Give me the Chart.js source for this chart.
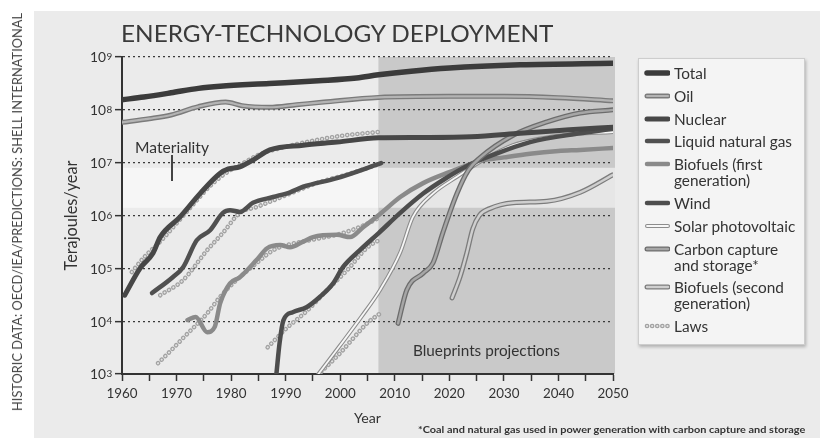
<!DOCTYPE html>
<html>
<head>
<meta charset="utf-8">
<script src="https://cdn.jsdelivr.net/npm/chart.js@4.4.1/dist/chart.umd.min.js"></script>
<style>
  html, body { margin: 0; padding: 0; background: #fff; }
  body { width: 822px; height: 439px; position: relative; overflow: hidden;
         font-family: Lato, "Open Sans", "DejaVu Sans", sans-serif; color: #333; }
  #panel { position: absolute; left: 34px; top: 11px; width: 786px; height: 427px; background: #ebebeb; }
  #chart { position: absolute; left: 0; top: 0; }
  .txt { position: absolute; white-space: nowrap; }
  #title { left: 121px; top: 19px; font-size: 24px; line-height: 28px; color: #3a3a3a; transform-origin: left center; }
  #source { left: 17px; top: 212px; font-size: 13px; line-height: 14px; color: #444;
            transform-origin: center center; }
  #note { left: 418px; top: 424px; font-size: 9px; line-height: 12px; color: #333; font-weight: bold; transform-origin: left center; }
  #materiality { left: 135px; top: 138px; font-size: 15px; line-height: 18px; }
  #matline { position: absolute; left: 171px; top: 155px; width: 1.5px; height: 26px; background: #444; }
  #blueprints { left: 413px; top: 341px; font-size: 15px; line-height: 18px; }
  #legend { position: absolute; left: 638px; top: 58px; width: 167px; height: 287px; box-sizing: border-box;
            background: #f4f4f4; border: 1px solid #cdcdcd; box-shadow: 1px 2px 3px rgba(0,0,0,0.25);
            padding: 6px 0 0 5px; }
  .item { display: flex; align-items: flex-start; margin-bottom: 6.8px; }
  .item canvas { flex: none; margin-top: 1px; }
  .item span { margin-left: 4px; line-height: 16px; white-space: pre-line; color: #333; }
</style>
</head>
<body>
<div id="panel"></div>
<canvas id="chart" width="822" height="439"></canvas>
<div class="txt" id="title">ENERGY-TECHNOLOGY DEPLOYMENT</div>
<div class="txt" id="source">HISTORIC DATA: OECD/IEA/PREDICTIONS: SHELL INTERNATIONAL</div>
<div class="txt" id="note">*Coal and natural gas used in power generation with carbon capture and storage</div>
<div class="txt" id="materiality">Materiality</div>
<div id="matline"></div>
<div class="txt" id="blueprints">Blueprints projections</div>
<div id="legend"></div>
<script>
// values in terajoules per year
const totalYears = [1960, 1964, 1969, 1974, 1978, 1987, 1996, 2003, 2007, 2013, 2020, 2033, 2050];
const totalValues = [1.55e8, 1.75e8, 2.1e8, 2.55e8, 2.8e8, 3.15e8, 3.55e8, 4.0e8, 4.6e8, 5.4e8, 6.2e8, 7.1e8, 7.6e8];

const oilYears = [1960, 1965, 1969, 1974, 1979, 1982, 1987, 1992, 1997, 2007, 2020, 2030, 2040, 2050];
const oilValues = [5.8e7, 6.8e7, 8.0e7, 1.15e8, 1.4e8, 1.2e8, 1.12e8, 1.25e8, 1.4e8, 1.72e8, 1.8e8, 1.8e8, 1.7e8, 1.48e8];

const nuclearYears = [1960.5, 1963.3, 1965.7, 1967, 1970.6, 1974.3, 1978, 1979.5, 1981.6, 1984, 1987.1, 1993.2, 1999.4, 2007, 2015, 2024, 2033, 2042, 2050];
const nuclearValues = [3.1e4, 1.0e5, 1.95e5, 3.9e5, 9.3e5, 2.6e6, 6.3e6, 7.6e6, 8.3e6, 1.12e7, 1.74e7, 2.14e7, 2.45e7, 2.95e7, 3.0e7, 3.1e7, 3.6e7, 4.2e7, 4.7e7];

const lngYears = [1965.5, 1969.3, 1971.2, 1973.7, 1976.1, 1978.5, 1979.8, 1981.6, 1984, 1987.7, 1990.8, 1993.2, 1999.4, 2007.5];
const lngValues = [3.4e4, 6.8e4, 1.05e5, 3.4e5, 5.2e5, 1.12e6, 1.26e6, 1.17e6, 1.74e6, 2.24e6, 2.75e6, 3.5e6, 5.1e6, 9.8e6];

const bio1Years = [1972, 1973.5, 1975.6, 1977, 1978, 1979.8, 1981.6, 1984.7, 1986.6, 1989, 1990.8, 1993.2, 1995, 1999.4, 2001.8, 2004.2, 2007.3, 2011, 2015.2, 2020, 2025.6, 2030, 2034.8, 2040, 2044, 2050];
const bio1Values = [1.05e4, 1.2e4, 6.2e3, 7.8e3, 2.2e4, 5.2e4, 6.8e4, 1.45e5, 2.4e5, 2.75e5, 2.5e5, 3.2e5, 3.9e5, 4.3e5, 3.9e5, 6.0e5, 1.07e6, 2.24e6, 4.1e6, 6.6e6, 1.07e7, 1.26e7, 1.48e7, 1.66e7, 1.74e7, 1.9e7];

const windYears = [1988.3, 1988.9, 1989.6, 1991.3, 1993.9, 1996.3, 1998.7, 2000.5, 2003.6, 2007.1, 2011, 2015.2, 2019, 2023.5, 2028, 2034.8, 2044, 2050];
const windValues = [1e3, 4e3, 1.05e4, 1.48e4, 1.86e4, 2.9e4, 5.2e4, 1.05e5, 2.2e5, 4.7e5, 1.12e6, 2.6e6, 4.8e6, 8.9e6, 1.4e7, 2.45e7, 3.6e7, 4.4e7];

const solarYears = [1996, 2000, 2004, 2007.3, 2011, 2013.3, 2017, 2021.4, 2026.2, 2031.7, 2040.8, 2050];
const solarValues = [1e3, 3.5e3, 1.26e4, 3.9e4, 2.0e5, 9.3e5, 2.6e6, 5.4e6, 1.12e7, 2.14e7, 3.3e7, 3.8e7];

const ccsYears = [2010.6, 2012.2, 2015.2, 2017, 2018.8, 2021.4, 2023.5, 2025.6, 2031.7, 2037.9, 2044, 2050];
const ccsValues = [9.1e3, 3.9e4, 8.1e4, 1.26e5, 4.7e5, 2.6e6, 7.2e6, 1.23e7, 3.3e7, 5.9e7, 8.7e7, 1.0e8];

const bio2Years = [2020.5, 2022, 2023.2, 2024.3, 2025.5, 2027.4, 2031.7, 2037.9, 2044, 2050];
const bio2Values = [2.75e4, 7.1e4, 1.95e5, 5.6e5, 1.0e6, 1.35e6, 1.74e6, 1.86e6, 2.75e6, 5.9e6];

// "laws" fits drawn as dotted lines
const lawsNuclearYears = [1961.8, 1964, 1967, 1970, 1973, 1976, 1979, 1982, 1985, 1990, 1995, 2000, 2007];
const lawsNuclearValues = [8.5e4, 1.6e5, 3.2e5, 7.1e5, 1.6e6, 3.5e6, 6.3e6, 9.5e6, 1.4e7, 2.0e7, 2.6e7, 3.2e7, 3.8e7];
const lawsLngYears = [1967, 1971.2, 1975.6, 1978.5, 1981.6, 1984.7, 1990.8, 1996, 2002, 2007];
const lawsLngValues = [3.1e4, 6.0e4, 2.2e5, 4.7e5, 1.12e6, 1.45e6, 2.6e6, 4.2e6, 6.3e6, 9.3e6];
const lawsBio1Years = [1966.6, 1969, 1971.2, 1975.6, 1978, 1981, 1984.7, 1987.7, 1990.2, 1995, 2000, 2004, 2007];
const lawsBio1Values = [1.6e3, 2.8e3, 4.8e3, 1.4e4, 2.9e4, 6.0e4, 1.26e5, 2.2e5, 2.75e5, 3.5e5, 4.5e5, 6.3e5, 8.9e5];
const lawsWindYears = [1986.7, 1990.2, 1994, 1997.6, 2001.3, 2005, 2007.3];
const lawsWindValues = [3.2e3, 7.4e3, 1.6e4, 3.9e4, 9.3e4, 2.5e5, 3.5e5];
const lawsSolarYears = [1996.5, 2000, 2003, 2005, 2007.3];
const lawsSolarValues = [1.1e3, 2.5e3, 5.6e3, 9.3e3, 1.4e4];

const xTickYears = [1960, 1965, 1970, 1975, 1980, 1985, 1990, 1995, 2000, 2005, 2010, 2015, 2020, 2025, 2030, 2035, 2040, 2045, 2050];
const yTickValues = [1e3, 1e4, 1e5, 1e6, 1e7, 1e8, 1e9];
const yTickExponents = ['3', '4', '5', '6', '7', '8', '9'];

const projectionStart = 2007;
const materialityBand = [1.4e6, 8e6];

const FONT = 'Lato, "Open Sans", "DejaVu Sans", sans-serif';

// font size that makes `text` the given width
const measurer = document.createElement('canvas').getContext('2d');
function sizeFor(text, width, weight) {
    measurer.font = (weight || 'normal') + ' 100px ' + FONT;
    return 100 * width / measurer.measureText(text).width;
}
const xTickSize = sizeFor('1960', 31);
const yBaseSize = sizeFor('10', 16);
const yExpSize = yBaseSize * 0.72;

// stroke layers, drawn bottom to top
const styles = {
    total:   [{c: '#3b3b3b', w: 5.5}],
    oil:     [{c: '#7b7b7b', w: 5}, {c: '#b4b4b4', w: 2.2}],
    nuclear: [{c: '#474747', w: 5}],
    lng:     [{c: '#505050', w: 4.5}],
    bio1:    [{c: '#8a8a8a', w: 4.5}],
    wind:    [{c: '#4d4d4d', w: 4.5}],
    solar:   [{c: '#8c8c8c', w: 4}, {c: '#f7f7f7', w: 1.8}],
    ccs:     [{c: '#6c6c6c', w: 5}, {c: '#a6a6a6', w: 2.4}],
    bio2:    [{c: '#7c7c7c', w: 5}, {c: '#cfcfcf', w: 2.4}],
    laws:    [{c: '#a2a2a2', w: 4.6, dash: [0.1, 5]}, {c: '#e4e4e4', w: 2, dash: [0.1, 5]}]
};

const series = [
    {xs: lawsNuclearYears, ys: lawsNuclearValues, style: 'laws'},
    {xs: lawsLngYears, ys: lawsLngValues, style: 'laws'},
    {xs: lawsBio1Years, ys: lawsBio1Values, style: 'laws'},
    {xs: lawsWindYears, ys: lawsWindValues, style: 'laws'},
    {xs: lawsSolarYears, ys: lawsSolarValues, style: 'laws'},
    {xs: oilYears, ys: oilValues, style: 'oil'},
    {xs: totalYears, ys: totalValues, style: 'total'},
    {xs: lngYears, ys: lngValues, style: 'lng'},
    {xs: bio2Years, ys: bio2Values, style: 'bio2'},
    {xs: bio1Years, ys: bio1Values, style: 'bio1'},
    {xs: solarYears, ys: solarValues, style: 'solar'},
    {xs: windYears, ys: windValues, style: 'wind'},
    {xs: ccsYears, ys: ccsValues, style: 'ccs'},
    {xs: nuclearYears, ys: nuclearValues, style: 'nuclear'}
];

const legendItems = [
    ['Total', 'total'], ['Oil', 'oil'], ['Nuclear', 'nuclear'], ['Liquid natural gas', 'lng'],
    ['Biofuels (first\ngeneration)', 'bio1'], ['Wind', 'wind'], ['Solar photovoltaic', 'solar'],
    ['Carbon capture\nand storage*', 'ccs'], ['Biofuels (second\ngeneration)', 'bio2'], ['Laws', 'laws']
];

const datasets = [];
series.forEach(s => {
    const pts = s.xs.map((x, i) => ({x: x, y: s.ys[i]}));
    styles[s.style].forEach(l => {
        datasets.push({
            data: pts,
            borderColor: l.c,
            borderWidth: l.w,
            borderDash: l.dash || [],
            borderCapStyle: 'round',
            borderJoinStyle: 'round',
            cubicInterpolationMode: 'monotone',
            pointRadius: 0,
            fill: false
        });
    });
});
datasets.forEach((d, i) => { d.order = -i; });

const backdrop = {
    id: 'backdrop',
    beforeDraw(chart) {
        const {ctx, chartArea: a, scales: {x, y}} = chart;
        const px = x.getPixelForValue(projectionStart);
        const bTop = y.getPixelForValue(materialityBand[1]);
        const bBot = y.getPixelForValue(materialityBand[0]);
        ctx.save();
        ctx.fillStyle = '#f6f6f6';
        ctx.fillRect(a.left, bTop, px - a.left, bBot - bTop);
        ctx.fillStyle = '#c9c9c9';
        ctx.fillRect(px, a.top, a.right + 2 - px, a.bottom - a.top);
        ctx.fillStyle = '#e6e6e6';
        ctx.fillRect(px, bTop, a.right + 2 - px, bBot - bTop);
        ctx.restore();
    },
    // power-of-ten labels with a real superscript size
    afterDraw(chart) {
        const {ctx, chartArea: a, scales: {y}} = chart;
        const xr = a.left - 16;
        ctx.save();
        ctx.fillStyle = '#333';
        yTickValues.forEach((v, i) => {
            const py = y.getPixelForValue(v) + 1;
            ctx.font = yBaseSize + 'px ' + FONT;
            ctx.textAlign = 'right';
            ctx.textBaseline = 'middle';
            ctx.fillText('10', xr, py);
            ctx.font = yExpSize + 'px ' + FONT;
            ctx.textAlign = 'left';
            ctx.textBaseline = 'alphabetic';
            ctx.fillText(yTickExponents[i], xr + 0.5, py - 0.36 * yBaseSize + 0.72 * yExpSize);
        });
        ctx.restore();
    }
};

new Chart(document.getElementById('chart'), {
    type: 'line',
    data: {datasets},
    plugins: [backdrop],
    options: {
        responsive: false,
        animation: false,
        events: [],
        layout: {padding: {left: 60, right: 209, top: 57, bottom: 7}},
        plugins: {legend: {display: false}, tooltip: {enabled: false}},
        scales: {
            x: {
                type: 'linear', min: 1960, max: 2050,
                afterFit(s) { s.height = 58; },
                afterBuildTicks(s) { s.ticks = xTickYears.map(v => ({value: v})); },
                ticks: {
                    autoSkip: false, maxRotation: 0, padding: 5, color: '#333',
                    font: {family: FONT, size: xTickSize},
                    callback: v => (v % 10 === 0 ? String(v) : '')
                },
                grid: {drawOnChartArea: false, tickLength: 7, tickColor: '#333', tickWidth: 1.5},
                border: {color: '#333', width: 2},
                title: {display: true, text: 'Year', color: '#333', font: {family: FONT, size: sizeFor('Year', 27)}, padding: {top: 0, bottom: 5}}
            },
            y: {
                type: 'logarithmic', min: 1e3, max: 1e9,
                afterFit(s) { s.width = 62; },
                afterBuildTicks(s) { s.ticks = yTickValues.map(v => ({value: v})); },
                ticks: {autoSkip: false, callback: () => ''},
                grid: {color: '#3a3a3a', lineWidth: 1.3, tickLength: 7, tickColor: '#333', tickWidth: 1.5},
                border: {color: '#333', width: 2, dash: [2, 3]},
                title: {display: true, text: 'Terajoules/year', color: '#333', font: {family: FONT, size: sizeFor('Terajoules/year', 110)}, padding: {top: 2, bottom: 0}}
            }
        }
    }
});

// legend
const legendSize = sizeFor('Liquid natural gas', 118);
const legend = document.getElementById('legend');
legendItems.forEach(([label, key]) => {
    const row = document.createElement('div');
    row.className = 'item';
    const c = document.createElement('canvas');
    c.width = 26; c.height = 14;
    const g = c.getContext('2d');
    g.lineCap = 'round';
    styles[key].forEach(l => {
        g.strokeStyle = l.c; g.lineWidth = l.w;
        g.setLineDash(l.dash || []);
        g.beginPath(); g.moveTo(3, 7); g.lineTo(24, 7); g.stroke();
    });
    const t = document.createElement('span');
    t.style.fontSize = legendSize + 'px';
    t.textContent = label;
    row.appendChild(c); row.appendChild(t);
    legend.appendChild(row);
});

document.getElementById('materiality').style.fontSize = sizeFor('Materiality', 74) + 'px';
document.getElementById('blueprints').style.fontSize = sizeFor('Blueprints projections', 147) + 'px';

// fit a few text blocks to the widths seen in the figure
function fit(id, width, extra) {
    const el = document.getElementById(id);
    const k = width / el.offsetWidth;
    el.style.transform = (extra || '') + ' scaleX(' + k + ')';
}
fit('title', 432);
fit('note', 387);
fit('source', 398, 'translate(-50%, -50%) rotate(-90deg)');
</script>
</body>
</html>
